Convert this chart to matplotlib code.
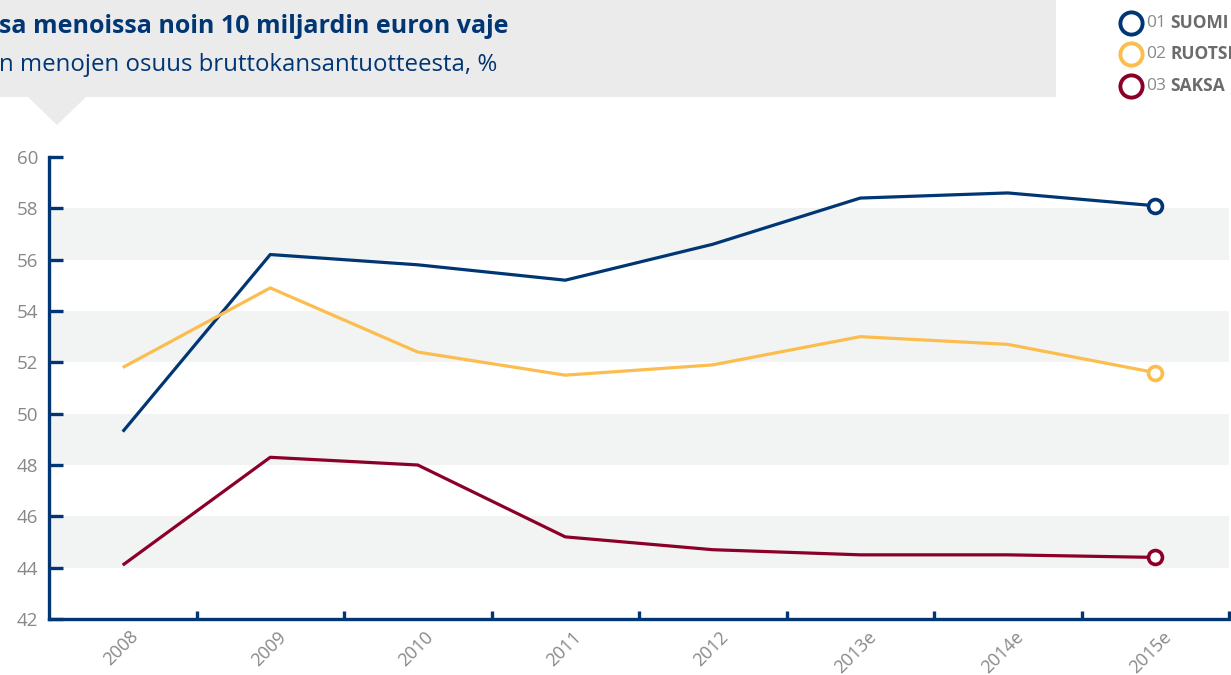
import matplotlib
matplotlib.use("Agg")
import matplotlib.pyplot as plt
from matplotlib.lines import Line2D
from matplotlib.patches import Rectangle, Polygon
from matplotlib.transforms import ScaledTranslation

years = ["2008", "2009", "2010", "2011", "2012", "2013e", "2014e", "2015e"]
suomi = [49.3, 56.2, 55.8, 55.2, 56.6, 58.4, 58.6, 58.1]
ruotsi = [51.8, 54.9, 52.4, 51.5, 51.9, 53.0, 52.7, 51.6]
saksa = [44.1, 48.3, 48.0, 45.2, 44.7, 44.5, 44.5, 44.4]
series_names = ["SUOMI", "RUOTSI", "SAKSA"]
series_nums = ["01", "02", "03"]
title = "sa menoissa noin 10 miljardin euron vaje"
subtitle = "n menojen osuus bruttokansantuotteesta, %"
y_ticks = list(range(42, 61, 2))

NAVY = "#003673"
YELLOW = "#fcbd4f"
RED = "#8b0029"
GRAY_TXT = "#888888"
LEG_TXT = "#6b6b6b"

plt.rcParams['font.family'] = ['Open Sans', 'DejaVu Sans']

W, H = 1231, 675
fig = plt.figure(figsize=(W / 100, H / 100), dpi=100)

def fx(px):
    return px / W

def fy(py):
    return 1 - py / H

# Title box
fig.patches.append(Rectangle((0, fy(97)), fx(1056), 97 / H, transform=fig.transFigure,
                             facecolor="#ebebeb", edgecolor="none", zorder=0))
fig.patches.append(Polygon([(fx(28), fy(97)), (fx(86), fy(97)), (fx(57), fy(125))],
                           closed=True, transform=fig.transFigure,
                           facecolor="#ebebeb", edgecolor="none", zorder=0))
fig.text(fx(-1), fy(33), title, fontsize=18, fontweight="bold", color=NAVY,
         ha="left", va="baseline")
fig.text(fx(-1), fy(71), subtitle, fontsize=17.3, color=NAVY, ha="left", va="baseline")

ax = fig.add_axes([fx(49), fy(619), fx(1229) - fx(49), (619 - 157) / H])
x = list(range(len(years)))
for lo in (44, 48, 52, 56):
    ax.axhspan(lo, lo + 2, color="#f2f3f3", zorder=0, lw=0)

colors = [NAVY, YELLOW, RED]
for vals, c in zip([suomi, ruotsi, saksa], colors):
    ax.plot(x, vals, color=c, lw=2.3, zorder=3, solid_capstyle="butt")
    ax.plot([x[-1]], [vals[-1]], marker="o", ms=10, mfc="white", mec=c, mew=2.6,
            zorder=4, linestyle="none")

ax.set_xlim(-0.5, 7.5)
ax.set_ylim(42, 60)
for s in ("top", "right"):
    ax.spines[s].set_visible(False)
for s in ("left", "bottom"):
    ax.spines[s].set_color(NAVY)
    ax.spines[s].set_linewidth(2.4)

ax.set_yticks(y_ticks)
ax.tick_params(axis="y", direction="in", length=10, width=2.4, color=NAVY,
               labelcolor=GRAY_TXT, labelsize=13.5, pad=8)
ax.set_xticks(x)
ax.set_xticklabels(years)
ax.set_xticks([i + 0.5 for i in x], minor=True)
ax.tick_params(axis="x", which="major", length=0, labelcolor=GRAY_TXT, labelsize=13, pad=0)
ax.tick_params(axis="x", which="minor", direction="in", length=6, width=2.4, color=NAVY)
off = ScaledTranslation(13 / 100, -15 / 100, fig.dpi_scale_trans)
for lbl in ax.get_xticklabels():
    lbl.set_rotation(45)
    lbl.set_rotation_mode("anchor")
    lbl.set_ha("right")
    lbl.set_va("center")
    lbl.set_transform(lbl.get_transform() + off)

# Legend
leg_y = [23, 54, 86]
for ly, c, num, name in zip(leg_y, colors, series_nums, series_names):
    fig.add_artist(Line2D([fx(1131)], [fy(ly)], marker="o", ms=16, mfc="white", mec=c,
                          mew=2.8, transform=fig.transFigure, linestyle="none"))
    fig.text(fx(1146), fy(ly), num, fontsize=12.5, color="#8a8a8a",
             ha="left", va="center")
    fig.text(fx(1170), fy(ly), name, fontsize=12.5, color=LEG_TXT, fontweight="bold",
             ha="left", va="center")

fig.savefig("out.png", dpi=100)
